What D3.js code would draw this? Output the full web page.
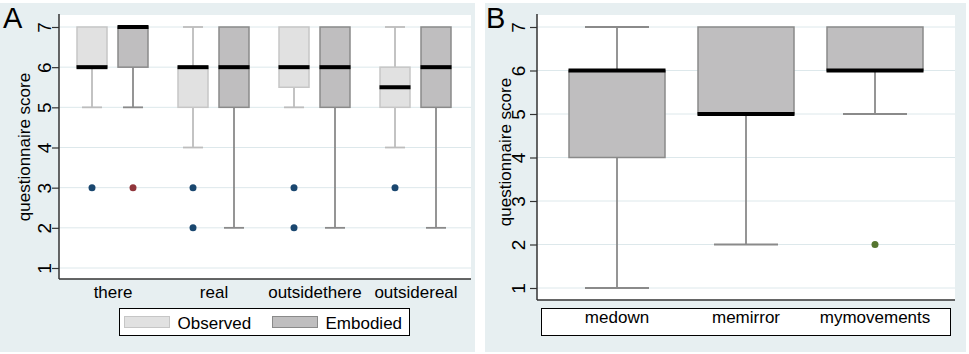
<!DOCTYPE html>
<html lang="en">
<head>
  <meta charset="UTF-8">
  <title>questionnaire score</title>
  <style>
    body { margin: 0; background: #fff; }
    text { font-family: "Liberation Sans", Arial, sans-serif; fill: #000; }
  </style>
</head>
<body>
  <svg width="969" height="354"></svg>
  <script src="https://cdn.jsdelivr.net/npm/d3@7"></script>
  <script>
    // data: [lower whisker, q1, median, q3, upper whisker]
    var groupsA = ["there", "real", "outsidethere", "outsidereal"];
    var seriesA = ["Observed", "Embodied"];
    var observedStats = [[5, 6, 6, 7, 7], [4, 5, 6, 6, 7], [5, 5.5, 6, 7, 7], [4, 5, 5.5, 6, 7]];
    var embodiedStats = [[5, 6, 7, 7, 7], [2, 5, 6, 7, 7], [2, 5, 6, 7, 7], [2, 5, 6, 7, 7]];
    var observedOutliers = [[3], [3, 2], [3, 2], [3]];
    var embodiedOutliers = [[3], [], [], []];

    var groupsB = ["medown", "memirror", "mymovements"];
    var statsB = [[1, 4, 6, 6, 7], [2, 5, 5, 7, 7], [5, 6, 6, 7, 7]];
    var outliersB = [[], [], [2]];

    var yTicks = [1, 2, 3, 4, 5, 6, 7];
    var yTitle = "questionnaire score";

    var svg = d3.select("svg");
    var bg = "#e7eff1", grid = "#dde8eb";
    var fs = 17;

    // panel backgrounds
    svg.append("rect").attr("x", 0).attr("y", 3).attr("width", 475).attr("height", 349).attr("fill", bg);
    svg.append("rect").attr("x", 485).attr("y", 3).attr("width", 481).attr("height", 349).attr("fill", bg);

    function drawPanel(opt) {
      var g = svg.append("g");
      var y = d3.scaleLinear().domain([1, 7]).range([opt.y1, opt.y7]);
      var x = d3.scaleBand().domain(opt.groups).range(opt.xRange);

      g.append("rect").attr("x", opt.left).attr("y", opt.top)
        .attr("width", opt.right - opt.left).attr("height", opt.bottom - opt.top).attr("fill", "#fff");

      // gridlines
      g.append("g").selectAll("line").data(yTicks).enter().append("line")
        .attr("x1", opt.left).attr("x2", opt.right)
        .attr("y1", function (d) { return y(d); }).attr("y2", function (d) { return y(d); })
        .attr("stroke", grid).attr("stroke-width", 1);

      // y axis
      var ax = g.append("g").attr("transform", "translate(" + opt.left + ",0)")
        .call(d3.axisLeft(y).tickValues(yTicks).tickSize(7).tickPadding(5).tickFormat(d3.format("d")));
      ax.select(".domain").remove();
      ax.selectAll(".tick line").attr("stroke", "#333").attr("stroke-width", 1.2);
      ax.selectAll(".tick text")
        .attr("font-size", 19).attr("font-family", "Liberation Sans, Arial, sans-serif")
        .attr("text-anchor", "middle").attr("dy", null)
        .attr("transform", "translate(" + opt.tickOff + ",0) rotate(-90)").attr("x", 0).attr("y", 0)
        .attr("dominant-baseline", "central");

      g.append("line").attr("x1", opt.left).attr("x2", opt.left)
        .attr("y1", opt.top - 1).attr("y2", opt.bottom).attr("stroke", "#333").attr("stroke-width", 1.5);
      g.append("line").attr("x1", opt.left).attr("x2", opt.right)
        .attr("y1", opt.bottom).attr("y2", opt.bottom).attr("stroke", "#333").attr("stroke-width", 1.5);

      g.append("text").attr("transform", "translate(" + opt.titleX + "," + opt.titleY + ") rotate(-90)")
        .attr("text-anchor", "middle").attr("font-size", fs).text(yTitle);

      g.append("text").attr("x", opt.letterX).attr("y", 28).attr("font-size", 29).text(opt.letter);

      // boxes
      opt.series.forEach(function (s) {
        var bw = s.width, cw = bw * 2 / 3;
        var bx = g.append("g").selectAll("g").data(s.stats).enter().append("g")
          .attr("transform", function (d, i) {
            return "translate(" + (x(opt.groups[i]) + x.bandwidth() / 2 + s.offset) + ",0)";
          });
        // whiskers
        bx.each(function (d) {
          var e = d3.select(this);
          if (d[0] < d[1]) {
            e.append("line").attr("y1", y(d[1])).attr("y2", y(d[0])).attr("stroke", s.whisker).attr("stroke-width", 1.8);
            e.append("line").attr("x1", -cw / 2).attr("x2", cw / 2).attr("y1", y(d[0])).attr("y2", y(d[0]))
              .attr("stroke", s.whisker).attr("stroke-width", 1.8);
          }
          if (d[4] > d[3]) {
            e.append("line").attr("y1", y(d[3])).attr("y2", y(d[4])).attr("stroke", s.whisker).attr("stroke-width", 1.8);
            e.append("line").attr("x1", -cw / 2).attr("x2", cw / 2).attr("y1", y(d[4])).attr("y2", y(d[4]))
              .attr("stroke", s.whisker).attr("stroke-width", 1.8);
          }
        });
        bx.append("rect").attr("x", -bw / 2).attr("width", bw)
          .attr("y", function (d) { return y(d[3]); })
          .attr("height", function (d) { return y(d[1]) - y(d[3]); })
          .attr("fill", s.fill).attr("stroke", s.stroke).attr("stroke-width", 1.5);
        bx.append("rect").attr("x", -bw / 2 - 0.5).attr("width", bw + 1)
          .attr("y", function (d) { return y(d[2]) - 2; }).attr("height", 4).attr("fill", "#000");
        // outliers
        bx.each(function (d, i) {
          d3.select(this).selectAll("circle").data(s.outliers[i]).enter().append("circle")
            .attr("cy", function (v) { return y(v); }).attr("r", 3.5).attr("fill", s.dot);
        });
      });
      return { g: g, x: x };
    }

    // panel A
    var pa = drawPanel({
      groups: groupsA, left: 59, right: 471, top: 15, bottom: 279, y1: 268, y7: 27,
      xRange: [62.5, 466.5], titleX: 30, titleY: 147, tickOff: -15, letterX: 3, letter: "A",
      series: [
        { stats: observedStats, outliers: observedOutliers, offset: -21, width: 30,
          fill: "#e1e1e1", stroke: "#c6c6c6", whisker: "#bdbdbd", dot: "#1a476f" },
        { stats: embodiedStats, outliers: embodiedOutliers, offset: 20, width: 30,
          fill: "#bfbebf", stroke: "#8a8a8a", whisker: "#8a8a8a", dot: "#90353b" }
      ]
    });
    pa.g.append("g").selectAll("text").data(groupsA).enter().append("text")
      .attr("x", function (d) { return pa.x(d) + pa.x.bandwidth() / 2; }).attr("y", 298)
      .attr("text-anchor", "middle").attr("font-size", fs).text(function (d) { return d; });

    // legend A
    var leg = pa.g.append("g");
    leg.append("rect").attr("x", 119.5).attr("y", 308.5).attr("width", 290).attr("height", 27)
      .attr("fill", "#fff").attr("stroke", "#000").attr("stroke-width", 1);
    var legFill = [["#e1e1e1", "#c6c6c6"], ["#bfbebf", "#8a8a8a"]];
    var legX = [124.5, 272.5];
    leg.selectAll("g").data(seriesA).enter().append("g").each(function (d, i) {
      var e = d3.select(this);
      e.append("rect").attr("x", legX[i]).attr("y", 316.5).attr("width", 45).attr("height", 11)
        .attr("fill", legFill[i][0]).attr("stroke", legFill[i][1]).attr("stroke-width", 1);
      e.append("text").attr("x", legX[i] + 53).attr("y", 328.5).attr("font-size", fs).text(d);
    });

    // panel B
    var pb = drawPanel({
      groups: groupsB, left: 537, right: 955, top: 15, bottom: 300, y1: 288, y7: 27,
      xRange: [552.5, 939.5], titleX: 511, titleY: 152, tickOff: -19, letterX: 486, letter: "B",
      series: [
        { stats: statsB, outliers: outliersB, offset: 0, width: 96,
          fill: "#bfbebf", stroke: "#8a8a8a", whisker: "#8a8a8a", dot: "#55752f" }
      ]
    });
    pb.g.append("rect").attr("x", 541.5).attr("y", 308.5).attr("width", 409).attr("height", 27)
      .attr("fill", "#fff").attr("stroke", "#000").attr("stroke-width", 1);
    pb.g.append("g").selectAll("text").data(groupsB).enter().append("text")
      .attr("x", function (d) { return pb.x(d) + pb.x.bandwidth() / 2; }).attr("y", 323)
      .attr("text-anchor", "middle").attr("font-size", fs).text(function (d) { return d; });
  </script>
</body>
</html>
